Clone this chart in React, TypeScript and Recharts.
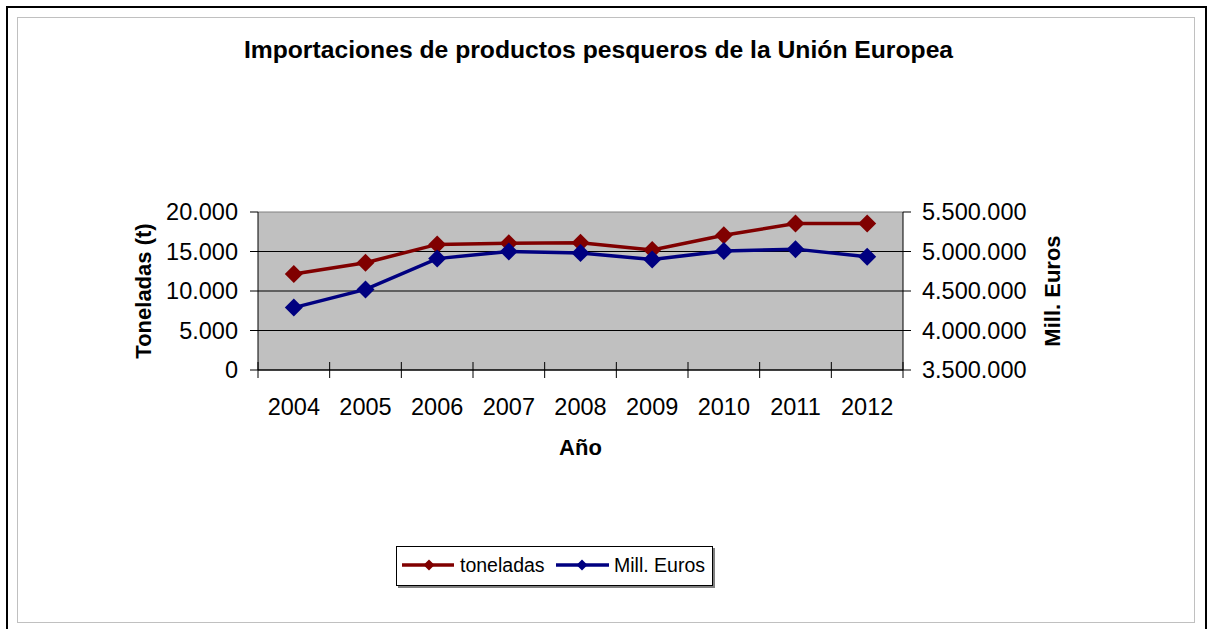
import React from 'react';
import { LineChart, Line, XAxis, YAxis, CartesianGrid, ReferenceLine } from 'recharts';

const years = ['2004', '2005', '2006', '2007', '2008', '2009', '2010', '2011', '2012'];
const toneladas = [12150, 13580, 15900, 16050, 16100, 15200, 17050, 18550, 18550];
const millEuros = [4290000, 4520000, 4910000, 5000000, 4980000, 4900000, 5005000, 5030000, 4935000];
const leftTicks = [0, 5000, 10000, 15000, 20000];
const rightTicks = [3500000, 4000000, 4500000, 5000000, 5500000];
const leftDomain = [0, 20000];

const data = years.map((y, i) => ({ idx: i, year: y, toneladas: toneladas[i], euros: millEuros[i] }));
const xTicks: number[] = [];
for (let i = 0; i <= years.length * 2; i++) xTicks.push(i / 2 - 0.5);

const FONT = '"Liberation Sans", Arial, Helvetica, sans-serif';
const RED = '#800000';
const BLUE = '#000080';

const fmt = (n: number) => String(Math.round(n)).replace(/\B(?=(\d{3})+(?!\d))/g, '.');

const XTick = (props: any) => {
  const { x, y, payload } = props;
  const v = payload.value;
  if (Number.isInteger(v)) {
    return (
      <text x={x} y={y + 45} textAnchor="middle" fontSize={23.5} fontFamily={FONT} fill="#000">
        {years[v]}
      </text>
    );
  }
  return <line x1={x} x2={x} y1={y - 8} y2={y + 8} stroke="#000" strokeWidth={1} />;
};

const makeDot = (color: string) => (props: any) => {
  const { cx, cy, index } = props;
  if (cx == null || cy == null) return <g key={index} />;
  const r = 9;
  return (
    <path
      key={index}
      d={`M${cx},${cy - r} L${cx + r},${cy} L${cx},${cy + r} L${cx - r},${cy} Z`}
      fill={color}
      stroke="none"
    />
  );
};

const Diamond = ({ cx, cy, r, color }: { cx: number; cy: number; r: number; color: string }) => (
  <path d={`M${cx},${cy - r} L${cx + r},${cy} L${cx},${cy + r} L${cx - r},${cy} Z`} fill={color} />
);

const gridGen = (p: any) => {
  const off = p.offset || {};
  const top = off.top ?? 212;
  const h = off.height ?? 158;
  return leftTicks
    .slice(0, -1)
    .map((t) => top + h * (1 - (t - leftDomain[0]) / (leftDomain[1] - leftDomain[0])));
};

export default function App() {
  return (
    <div style={{ position: 'absolute', left: 0, top: 0, width: 1207, height: 629, overflow: 'hidden', background: '#fff', fontFamily: FONT }}>
      <div style={{ position: 'absolute', left: 6, top: 6, width: 1201, height: 700, border: '2px solid #000', boxSizing: 'border-box' }} />
      <div style={{ position: 'absolute', left: 17, top: 17, width: 1178, height: 606, border: '1px solid #c0c0c0', boxSizing: 'border-box' }} />
      <div style={{ position: 'absolute', left: 0, top: 0 }}>
        <LineChart width={1207} height={629} data={data} margin={{ top: 212, right: 0, bottom: 199, left: 0 }}>
          <CartesianGrid
            yAxisId="left"
            xAxisId="x"
            vertical={false}
            stroke="#000"
            fill="#c0c0c0"
            horizontalCoordinatesGenerator={gridGen}
          />
          <ReferenceLine xAxisId="x" yAxisId="left" y={leftDomain[1]} stroke="#808080" strokeWidth={1} />
          <XAxis
            xAxisId="x"
            dataKey="idx"
            type="number"
            domain={[-0.5, years.length - 0.5]}
            ticks={xTicks}
            interval={0}
            tick={<XTick />}
            tickLine={false}
            tickSize={0}
            tickMargin={0}
            height={60}
            axisLine={{ stroke: '#000' }}
            label={{
              content: (p: any) => {
                const vb = p.viewBox;
                return (
                  <text x={vb.x + vb.width / 2} y={vb.y + 85} textAnchor="middle" fontSize={22} fontWeight="bold" fontFamily={FONT} fill="#000">
                    Año
                  </text>
                );
              },
            }}
          />
          <YAxis
            yAxisId="left"
            orientation="left"
            width={258}
            domain={leftDomain}
            ticks={leftTicks}
            interval={0}
            tickFormatter={fmt}
            tickSize={8}
            tickMargin={12}
            tick={{ fontSize: 23.5, fontFamily: FONT, fill: '#000' }}
            axisLine={{ stroke: '#000' }}
            tickLine={{ stroke: '#000' }}
            label={{
              content: (p: any) => {
                const vb = p.viewBox;
                const cy = vb.y + vb.height / 2;
                return (
                  <text x={151} y={cy} transform={`rotate(-90 151 ${cy})`} textAnchor="middle" fontSize={22} fontWeight="bold" fontFamily={FONT} fill="#000">
                    Toneladas (t)
                  </text>
                );
              },
            }}
          />
          <YAxis
            yAxisId="right"
            orientation="right"
            width={304}
            domain={[3500000, 5500000]}
            ticks={rightTicks}
            interval={0}
            tickFormatter={fmt}
            tickSize={8}
            tickMargin={11}
            tick={{ fontSize: 23.5, fontFamily: FONT, fill: '#000' }}
            axisLine={{ stroke: '#000' }}
            tickLine={{ stroke: '#000' }}
            label={{
              content: (p: any) => {
                const vb = p.viewBox;
                const cy = vb.y + vb.height / 2;
                return (
                  <text x={1060} y={cy} transform={`rotate(-90 1060 ${cy})`} textAnchor="middle" fontSize={22} fontWeight="bold" fontFamily={FONT} fill="#000">
                    Mill. Euros
                  </text>
                );
              },
            }}
          />
          <Line
            xAxisId="x"
            yAxisId="left"
            type="linear"
            dataKey="toneladas"
            stroke={RED}
            strokeWidth={3.5}
            dot={makeDot(RED)}
            activeDot={false}
            isAnimationActive={false}
          />
          <Line
            xAxisId="x"
            yAxisId="right"
            type="linear"
            dataKey="euros"
            stroke={BLUE}
            strokeWidth={3.5}
            dot={makeDot(BLUE)}
            activeDot={false}
            isAnimationActive={false}
          />
        </LineChart>
      </div>
      <div style={{ position: 'absolute', left: 0, width: 1197, top: 36, textAlign: 'center', fontSize: 24.7, fontWeight: 'bold', lineHeight: '28px', whiteSpace: 'nowrap', color: '#000' }}>
        Importaciones de productos pesqueros de la Unión Europea
      </div>
      <div style={{ position: 'absolute', left: 396, top: 546, width: 317, height: 40, border: '1px solid #000', boxShadow: '2px 2px 0 #808080', background: '#fff', boxSizing: 'border-box' }}>
        <svg width={315} height={38} style={{ display: 'block' }}>
          <line x1={5} x2={57} y1={18} y2={18} stroke={RED} strokeWidth={3.5} />
          <Diamond cx={32} cy={18} r={5.5} color={RED} />
          <text x={63} y={25} fontSize={19.5} fontFamily={FONT} fill="#000">toneladas</text>
          <line x1={159} x2={212} y1={18} y2={18} stroke={BLUE} strokeWidth={3.5} />
          <Diamond cx={185} cy={18} r={5.5} color={BLUE} />
          <text x={217} y={25} fontSize={19.5} fontFamily={FONT} fill="#000">Mill. Euros</text>
        </svg>
      </div>
    </div>
  );
}
